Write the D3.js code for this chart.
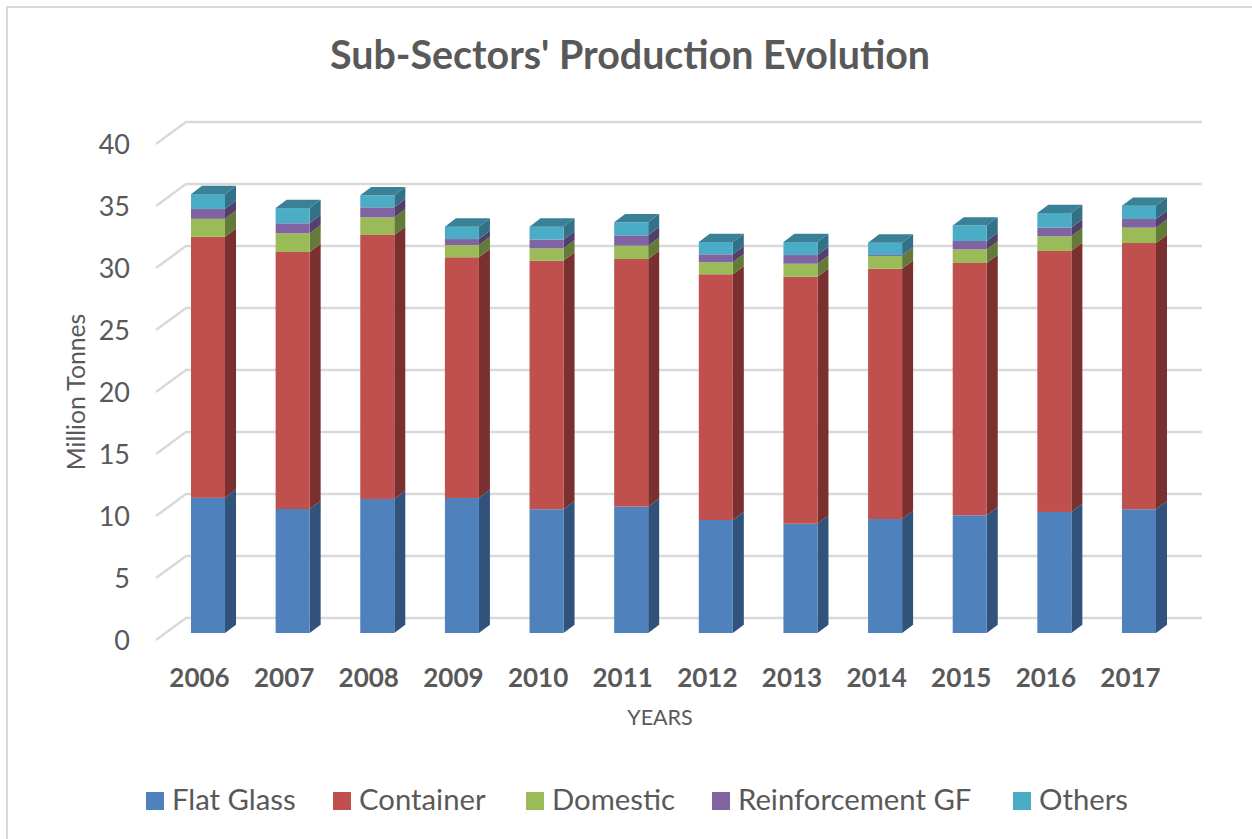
<!DOCTYPE html>
<html>
<head>
<meta charset="utf-8">
<script src="https://cdnjs.cloudflare.com/ajax/libs/d3/7.8.5/d3.min.js"></script>
<style>
html,body{margin:0;padding:0;background:#fff;}
svg{display:block;}
text{font-family:Lato,"Open Sans",sans-serif;fill:#595959;}
</style>
</head>
<body>
<svg id="chart" width="1252" height="839"></svg>
<script>
const years = ["2006","2007","2008","2009","2010","2011","2012","2013","2014","2015","2016","2017"];
const flatGlass = [10.9,10.0,10.81,10.89,9.98,10.19,9.11,8.81,9.19,9.49,9.76,9.98];
const container = [21.05,20.73,21.29,19.41,20.04,19.97,19.82,19.92,20.19,20.35,21.05,21.47];
const domestic = [1.45,1.5,1.42,0.99,1.0,1.07,0.97,1.05,1.02,1.09,1.18,1.24];
const reinforcementGF = [0.8,0.81,0.81,0.48,0.7,0.84,0.64,0.7,0.08,0.68,0.7,0.7];
const others = [1.19,1.23,0.97,1.0,1.05,1.05,0.99,1.05,1.0,1.25,1.18,1.07];
const seriesNames = ["Flat Glass","Container","Domestic","Reinforcement GF","Others"];
const seriesValues = [flatGlass,container,domestic,reinforcementGF,others];
const frontColors = ["#4f81bd","#c0504d","#9bbb59","#8064a2","#4bacc6"];
const sideColors = ["#31527b","#7a302e","#647a38","#533f6b","#327187"];
const topColor = "#3a8198";
const yTicks = [0,5,10,15,20,25,30,35,40];

const svg = d3.select("#chart");
const y = d3.scaleLinear().domain([0,40]).range([633,137]);
const x = d3.scaleBand().domain(years).range([191,1156]).paddingInner(0.598).paddingOuter(0);
const depthX = 11, depthY = 8.3;
const backDY = -15, gridL = 186, gridR = 1202, stubL = 156, stubDY = 7;

// chart frame
svg.append("path").attr("d","M7,839V7H1252").attr("fill","none").attr("stroke","#d9d9d9").attr("stroke-width",2);

// gridlines on back wall and side wall
const grid = svg.append("g").attr("fill","none").attr("stroke","#d9d9d9").attr("stroke-width",2.4);
grid.selectAll("path").data(yTicks).join("path")
  .attr("d",d=>`M${stubL},${y(d)+stubDY}L${gridL},${y(d)+backDY}H${gridR}`);

// stacked 3D bars
const rows = years.map((yr,i)=>{
  const r={year:yr};
  seriesNames.forEach((n,j)=>r[n]=seriesValues[j][i]);
  return r;
});
const stacked = d3.stack().keys(seriesNames)(rows);
const bars = svg.append("g");
stacked.forEach((layer,j)=>{
  const g = bars.append("g");
  g.selectAll("path.side").data(layer).join("path").attr("class","side")
    .attr("fill",sideColors[j])
    .attr("d",d=>{
      const xr=x(d.data.year)+x.bandwidth();
      return `M${xr},${y(d[0])}L${xr+depthX},${y(d[0])-depthY}V${y(d[1])-depthY}L${xr},${y(d[1])}Z`;
    });
  g.selectAll("rect").data(layer).join("rect")
    .attr("x",d=>x(d.data.year))
    .attr("width",x.bandwidth())
    .attr("y",d=>y(d[1]))
    .attr("height",d=>y(d[0])-y(d[1]))
    .attr("fill",frontColors[j]);
});
bars.append("g").selectAll("path").data(stacked[stacked.length-1]).join("path")
  .attr("fill",topColor)
  .attr("d",d=>{
    const xl=x(d.data.year), xr=xl+x.bandwidth(), t=y(d[1]);
    return `M${xl},${t}L${xl+depthX},${t-depthY}H${xr+depthX}L${xr},${t}Z`;
  });

// axes
const yAxis = svg.append("g").attr("transform",`translate(130,${stubDY+1})`)
  .call(d3.axisLeft(y).tickValues(yTicks).tickSize(0).tickPadding(0));
yAxis.select(".domain").remove();
yAxis.selectAll("text").style("font-family","Lato").style("font-size","27px").style("fill","#595959");

const xAxis = svg.append("g").attr("transform","translate(-8.5,669)")
  .call(d3.axisBottom(x).tickSize(0).tickPadding(0));
xAxis.select(".domain").remove();
xAxis.selectAll("text").style("font-family","Lato").style("font-size","26px").style("font-weight","700").style("fill","#595959");

// titles
svg.append("text").attr("x",630).attr("y",69).attr("text-anchor","middle")
  .style("font-size","39.4px").style("font-weight","700").text("Sub-Sectors' Production Evolution");
svg.append("text").attr("x",660).attr("y",725).attr("text-anchor","middle")
  .style("font-size","21.5px").text("YEARS");
svg.append("text").attr("transform","translate(85,392) rotate(-90)").attr("text-anchor","middle")
  .style("font-size","24.7px").text("Million Tonnes");

// legend
const legendX = [146,333,526,712,1013];
const legend = svg.append("g").selectAll("g").data(seriesNames).join("g")
  .attr("transform",(d,i)=>`translate(${legendX[i]},792)`);
legend.append("rect").attr("width",18).attr("height",18).attr("fill",(d,i)=>frontColors[i]);
legend.append("text").attr("x",26).attr("y",18).style("font-size","29.3px").text(d=>d);
</script>
</body>
</html>
